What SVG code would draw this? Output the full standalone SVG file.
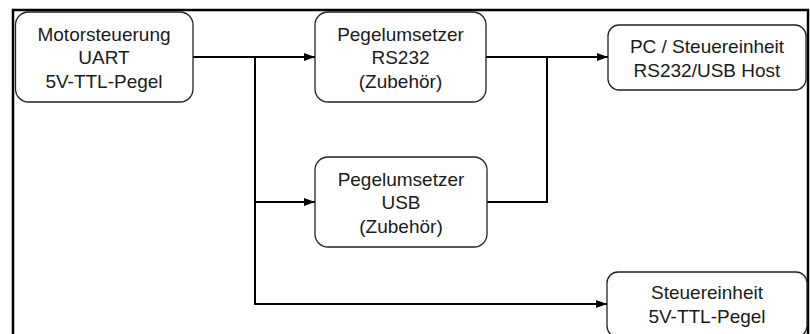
<svg xmlns="http://www.w3.org/2000/svg" width="810" height="334" viewBox="0 0 810 334">
<defs>
<style>
.frame{fill:none;stroke:#000;stroke-width:2.5}
.box{fill:#fff;stroke:#222;stroke-width:1.3}
.conn{fill:none;stroke:#000;stroke-width:2}
text{font-family:"Liberation Sans",Arial,sans-serif;font-size:19px;fill:#1a1a1a;text-anchor:middle}
</style>
<marker id="arr" markerWidth="11" markerHeight="8" refX="11" refY="4" orient="auto" markerUnits="userSpaceOnUse">
<path d="M0,0 L11,4 L0,8 Z" fill="#000"/>
</marker>
</defs>
<rect width="810" height="334" fill="#fff"/>
<rect class="frame" x="13" y="10" width="795" height="340"/>
<g id="connectors">
<path class="conn" d="M193,57 H315" marker-end="url(#arr)"/>
<path class="conn" d="M255,57 V304 H607" marker-end="url(#arr)"/>
<path class="conn" d="M255,202 H315" marker-end="url(#arr)"/>
<path class="conn" d="M486,57 H608" marker-end="url(#arr)"/>
<path class="conn" d="M487,202 H547 V57"/>
</g>
<g id="motorsteuerung">
<rect class="box" x="15.5" y="12" width="177.5" height="90" rx="13"/>
<text x="104" y="40.5">Motorsteuerung</text>
<text x="104" y="64">UART</text>
<text x="104" y="87.5">5V-TTL-Pegel</text>
</g>
<g id="pegel-rs232">
<rect class="box" x="315" y="12" width="171" height="90" rx="13"/>
<text x="400.5" y="40.5">Pegelumsetzer</text>
<text x="400.5" y="64">RS232</text>
<text x="400.5" y="87.5">(Zubehör)</text>
</g>
<g id="pegel-usb">
<rect class="box" x="315" y="157" width="172" height="90" rx="13"/>
<text x="401" y="185.5">Pegelumsetzer</text>
<text x="401" y="209">USB</text>
<text x="401" y="232.5">(Zubehör)</text>
</g>
<g id="pc">
<rect class="box" x="608" y="25" width="198" height="65" rx="11"/>
<text x="707" y="52.5">PC / Steuereinheit</text>
<text x="707" y="76.5">RS232/USB Host</text>
</g>
<g id="steuereinheit">
<rect class="box" x="607" y="272" width="200" height="65" rx="11"/>
<text x="707" y="298.5">Steuereinheit</text>
<text x="707" y="322.5">5V-TTL-Pegel</text>
</g>
</svg>
